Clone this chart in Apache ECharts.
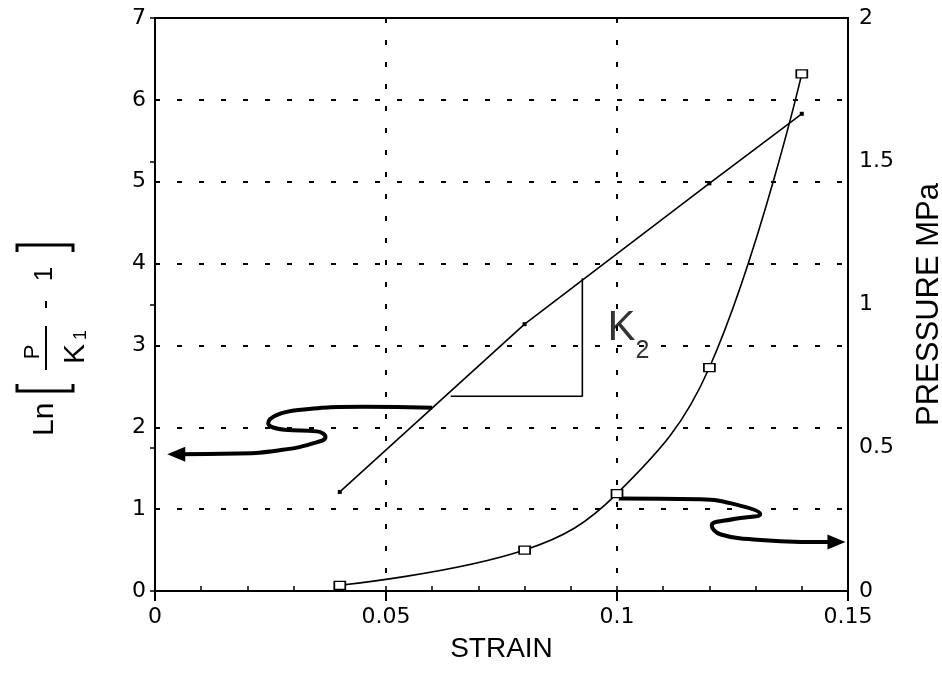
<!DOCTYPE html>
<html>
<head>
<meta charset="utf-8">
<script src="https://cdn.jsdelivr.net/npm/echarts@6/dist/echarts.min.js"></script>
<style>
  html, body { margin: 0; padding: 0; background: #fff; }
  #main { width: 942px; height: 676px; }
</style>
</head>
<body>
<div id="main"></div>
<script>
// Ln[P/K1 - 1] vs strain (left axis)
const strainLn = [0.04, 0.08, 0.12, 0.14];
const lnValues = [1.21, 3.26, 4.98, 5.83];
// pressure vs strain (right axis, MPa)
const strainP = [0.04, 0.08, 0.10, 0.12, 0.14];
const pressure = [0.02, 0.143, 0.34, 0.78, 1.805];
// slope triangle for K2 (left axis units)
const slopeX = [0.064, 0.0925, 0.0925];
const slopeY = [2.38, 2.38, 3.82];
// hand drawn arrows pointing to each axis (left axis units)
const arrowLeftX = [0.060, 0.045, 0.031, 0.0245, 0.028, 0.035, 0.0369, 0.034, 0.027, 0.018, 0.0046];
const arrowLeftY = [2.24, 2.25, 2.21, 2.05, 1.97, 1.95, 1.88, 1.80, 1.72, 1.68, 1.67];
const arrowRightX = [0.1004, 0.118, 0.1268, 0.131, 0.1253, 0.1205, 0.1225, 0.1296, 0.1398, 0.1475];
const arrowRightY = [1.13, 1.12, 1.04, 0.94, 0.88, 0.80, 0.69, 0.63, 0.60, 0.60];

const font = 'Liberation Sans';
const tickFont = 'DejaVu Sans';

const pairs = (xs, ys) => xs.map((x, i) => [x, ys[i]]);

function arrowData(xs, ys, rot) {
  let d = pairs(xs, ys);
  let last = d.length - 1;
  d[last] = { value: d[last], symbol: 'triangle', symbolSize: [15, 18], symbolRotate: rot };
  return d;
}

let chart = echarts.init(document.getElementById('main'));
chart.setOption({
  animation: false,
  backgroundColor: '#fff',
  grid: {
    left: 155, right: 94, top: 18, bottom: 85,
    containLabel: false, outerBoundsMode: 'none',
    show: true, borderColor: '#000', borderWidth: 2,
  },
  xAxis: [
    {
      type: 'value', min: 0, max: 0.15, interval: 0.05,
      name: 'STRAIN', nameLocation: 'middle', nameGap: 44,
      nameTextStyle: { fontFamily: font, fontSize: 28, color: '#000' },
      axisLine: { lineStyle: { color: '#000', width: 2 } },
      axisTick: { show: true, inside: false, length: 10, lineStyle: { color: '#000', width: 2 } },
      axisLabel: { fontFamily: tickFont, fontSize: 22, color: '#000', margin: 15 },
      splitLine: { show: true, lineStyle: { color: '#000', width: 2, type: [5, 17] } },
    },
    {
      // minor ticks every 0.01 pointing up
      type: 'value', min: 0, max: 0.15, interval: 0.01, position: 'bottom',
      axisLine: { show: false },
      axisTick: { show: true, inside: true, length: 5, lineStyle: { color: '#000', width: 1.5 } },
      axisLabel: { show: false },
      splitLine: { show: false },
    },
  ],
  yAxis: [
    {
      type: 'value', min: 0, max: 7, interval: 1,
      axisLine: { show: true, lineStyle: { color: '#000', width: 2 } },
      axisTick: { show: true, inside: true, length: 5, lineStyle: { color: '#000', width: 1.5 } },
      axisLabel: { fontFamily: tickFont, fontSize: 22, color: '#000', margin: 9 },
      splitLine: { show: true, lineStyle: { color: '#000', width: 2, type: [5, 17] } },
    },
    {
      type: 'value', min: 0, max: 2, interval: 0.5, position: 'right',
      name: 'PRESSURE MPa', nameLocation: 'middle', nameRotate: 90, nameGap: 66,
      nameTextStyle: { fontFamily: font, fontSize: 31, color: '#000' },
      axisLine: { show: true, lineStyle: { color: '#000', width: 2 } },
      axisTick: { show: true, inside: true, length: 5, lineStyle: { color: '#000', width: 1.5 } },
      axisLabel: { fontFamily: tickFont, fontSize: 22, color: '#000', margin: 11 },
      splitLine: { show: false },
    },
  ],
  series: [
    {
      name: 'ln', type: 'line', yAxisIndex: 0,
      data: pairs(strainLn, lnValues),
      symbol: 'rect', symbolSize: 4,
      itemStyle: { color: '#000' },
      lineStyle: { color: '#000', width: 1.6 },
    },
    {
      name: 'pressure', type: 'line', yAxisIndex: 1, smooth: 0.4,
      data: pairs(strainP, pressure),
      symbol: 'rect', symbolSize: [11, 8], z: 3,
      itemStyle: { color: '#fff', borderColor: '#000', borderWidth: 1.5 },
      lineStyle: { color: '#000', width: 1.6 },
    },
    {
      name: 'slope', type: 'line', yAxisIndex: 0,
      data: pairs(slopeX, slopeY), symbol: 'none',
      lineStyle: { color: '#000', width: 1.6 },
    },
    {
      name: 'K2', type: 'scatter', yAxisIndex: 0,
      data: [[0.1025, 3.12]], symbolSize: 0,
      label: {
        show: true, position: 'inside', color: '#000',
        formatter: '{k|K}{s|2}',
        rich: {
          k: { fontFamily: font, fontSize: 42, color: '#000', verticalAlign: 'top', padding: [0, 0, 14, 0] },
          s: { fontFamily: font, fontSize: 25, color: '#000', verticalAlign: 'bottom' },
        },
      },
    },
    {
      name: 'arrowL', type: 'line', yAxisIndex: 0, smooth: 0.5,
      data: arrowData(arrowLeftX, arrowLeftY, 90),
      symbol: 'none', showSymbol: true,
      itemStyle: { color: '#000' },
      lineStyle: { color: '#000', width: 4 },
    },
    {
      name: 'arrowR', type: 'line', yAxisIndex: 0, smooth: 0.5,
      data: arrowData(arrowRightX, arrowRightY, -90),
      symbol: 'none', showSymbol: true,
      itemStyle: { color: '#000' },
      lineStyle: { color: '#000', width: 4 },
    },
  ],
  graphic: [
    {
      // left axis title: Ln [ P / K1 - 1 ], rotated to read upwards
      type: 'group', x: 45, y: 318, rotation: Math.PI / 2,
      children: [
        { type: 'text', x: -118, y: 0, style: { text: 'Ln', font: '30px ' + font, fill: '#000', align: 'left', verticalAlign: 'middle' } },
        { type: 'polyline', shape: { points: [[-66, -28], [-73, -28], [-73, 28], [-66, 28]] }, style: { stroke: '#000', lineWidth: 3, fill: null } },
        { type: 'text', x: -34, y: -12, style: { text: 'P', font: '22px ' + font, fill: '#000', align: 'center', verticalAlign: 'middle' } },
        { type: 'line', shape: { x1: -52, y1: 1, x2: -8, y2: 1 }, style: { stroke: '#000', lineWidth: 2 } },
        { type: 'text', x: -46, y: 16, style: { text: 'K', font: '30px ' + font, fill: '#000', align: 'left', verticalAlign: 'top' } },
        { type: 'text', x: -22, y: 27, style: { text: '1', font: '18px ' + font, fill: '#000', align: 'left', verticalAlign: 'top' } },
        { type: 'line', shape: { x1: 10, y1: 1, x2: 17, y2: 1 }, style: { stroke: '#000', lineWidth: 2 } },
        { type: 'text', x: 44, y: 0, style: { text: '1', font: '26px ' + font, fill: '#000', align: 'center', verticalAlign: 'middle' } },
        { type: 'polyline', shape: { points: [[66, -28], [73, -28], [73, 28], [66, 28]] }, style: { stroke: '#000', lineWidth: 3, fill: null } },
      ],
    },
  ],
});
</script>
</body>
</html>
